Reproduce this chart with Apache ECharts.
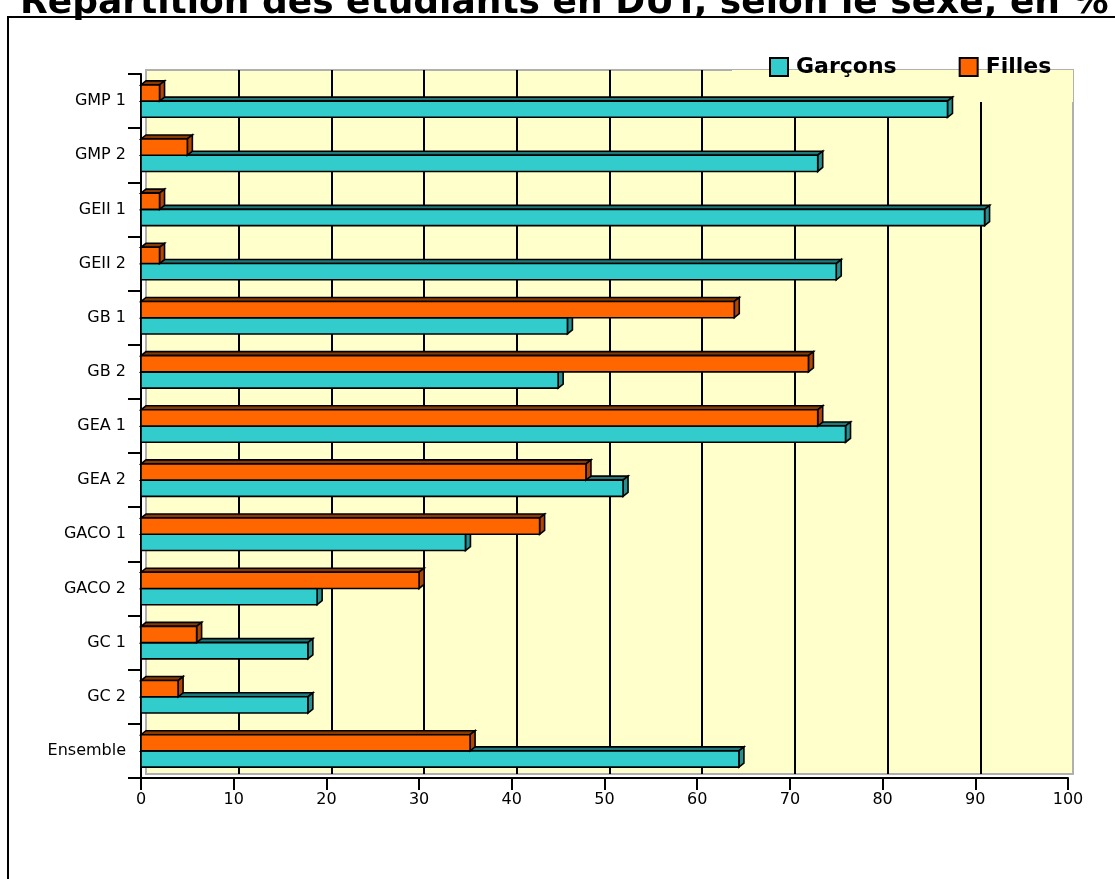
<!DOCTYPE html>
<html><head><meta charset="utf-8">
<script src="https://cdn.jsdelivr.net/npm/echarts@6/dist/echarts.min.js"></script>
<style>html,body{margin:0;padding:0;background:#fff}#c{width:1115px;height:879px}</style>
</head><body><div id="c"></div>
<script>
const categories = ['GMP 1','GMP 2','GEII 1','GEII 2','GB 1','GB 2','GEA 1','GEA 2','GACO 1','GACO 2','GC 1','GC 2','Ensemble'];
const garcons = [87,73,91,75,46,45,76,52,35,19,18,18,64.5];
const filles  = [2,5,2,2,64,72,73,48,43,30,6,4,35.5];
const xTicks = [0,10,20,30,40,50,60,70,80,90,100];

const FONT = '"DejaVu Sans", Verdana, sans-serif';
const DX = 5, DY = 4;

function makeRender(side, front, top, right) {
  return function (params, api) {
    const v = api.value(0), c = api.value(1);
    const p0 = api.coord([0, c]);
    const p1 = api.coord([v, c]);
    const band = api.size([0, 1])[1];
    const bw = band * 0.30;
    const cy = p0[1];
    const y0 = side === 'up' ? cy - bw : cy;
    const y1 = side === 'up' ? cy : cy + bw;
    const x0 = p0[0], x1 = p1[0];
    const ls = {stroke: '#000', lineWidth: 1.6, lineJoin: 'miter'};
    return {
      type: 'group',
      children: [
        {type: 'polygon', shape: {points: [[x0, y0], [x1, y0], [x1 + DX, y0 - DY], [x0 + DX, y0 - DY]]},
          style: Object.assign({fill: top}, ls)},
        {type: 'polygon', shape: {points: [[x1, y0], [x1 + DX, y0 - DY], [x1 + DX, y1 - DY], [x1, y1]]},
          style: Object.assign({fill: right}, ls)},
        {type: 'rect', shape: {x: x0, y: y0, width: x1 - x0, height: y1 - y0},
          style: Object.assign({fill: front}, ls)}
      ]
    };
  };
}

const chart = echarts.init(document.getElementById('c'), null, {renderer: 'canvas'});
chart.setOption({
  animation: false,
  backgroundColor: '#fff',
  textStyle: {fontFamily: FONT},
  graphic: [
    {type: 'rect', shape: {x: 8, y: 17, width: 1130, height: 900}, style: {fill: 'none', stroke: '#000', lineWidth: 2}, z: 100},
    {type: 'text', x: 20, y: 22, style: {text: 'Répartition des étudiants en DUT, selon le sexe, en %', fontFamily: FONT, fontWeight: 'bold', fontSize: 36, fill: '#000', verticalAlign: 'bottom'}, z: 100},
    {type: 'rect', shape: {x: 732, y: 70, width: 341, height: 32}, style: {fill: '#FFFFCC'}, z: 1}
  ],
  legend: {
    data: ['Garçons', 'Filles'],
    left: 764, top: 51,
    itemWidth: 18, itemHeight: 18, itemGap: 62,
    icon: 'rect',
    itemStyle: {borderColor: '#000', borderWidth: 2},
    textStyle: {fontFamily: FONT, fontWeight: 'bold', fontSize: 22, color: '#000', padding: [0, 0, 0, 3]},
    z: 10
  },
  grid: [
    {left: 146, top: 70, width: 927, height: 704, show: true, backgroundColor: '#FFFFCC', borderColor: '#B0B0B0', borderWidth: 2, containLabel: false},
    {left: 141, top: 74, width: 927, height: 704, containLabel: false}
  ],
  xAxis: [
    {gridIndex: 0, type: 'value', min: 0, max: 100, interval: 10,
      axisLine: {show: false}, axisTick: {show: false}, axisLabel: {show: false},
      splitLine: {show: true, showMinLine: false, showMaxLine: false, lineStyle: {color: '#000', width: 2}}},
    {gridIndex: 1, type: 'value', min: 0, max: 100, interval: 10,
      axisLine: {show: true, onZero: false, lineStyle: {color: '#000', width: 2}},
      axisTick: {show: true, length: 12, lineStyle: {color: '#000', width: 2}},
      axisLabel: {show: true, margin: 14, fontFamily: FONT, fontSize: 16, color: '#000',
        formatter: function (v) { return xTicks.indexOf(v) >= 0 ? String(v) : ''; }},
      splitLine: {show: false}}
  ],
  yAxis: [
    {gridIndex: 0, type: 'category', data: categories, inverse: true, show: false},
    {gridIndex: 1, type: 'category', data: categories, inverse: true,
      axisLine: {show: true, onZero: false, lineStyle: {color: '#000', width: 2}},
      axisTick: {show: true, length: 13, alignWithLabel: false, lineStyle: {color: '#000', width: 2}},
      axisLabel: {show: true, margin: 15, fontFamily: FONT, fontSize: 16, color: '#000'},
      splitLine: {show: false}}
  ],
  series: [
    {name: 'Garçons', type: 'custom', xAxisIndex: 1, yAxisIndex: 1, z: 3,
      itemStyle: {color: '#33CCCC'},
      encode: {x: 0, y: 1},
      renderItem: makeRender('down', '#33CCCC', '#1E7A7A', '#268F8F'),
      data: garcons.map(function (v, i) { return [v, i]; })},
    {name: 'Filles', type: 'custom', xAxisIndex: 1, yAxisIndex: 1, z: 4,
      itemStyle: {color: '#FF6600'},
      encode: {x: 0, y: 1},
      renderItem: makeRender('up', '#FF6600', '#8A3A00', '#B34700'),
      data: filles.map(function (v, i) { return [v, i]; })}
  ]
});
</script>
</body></html>
